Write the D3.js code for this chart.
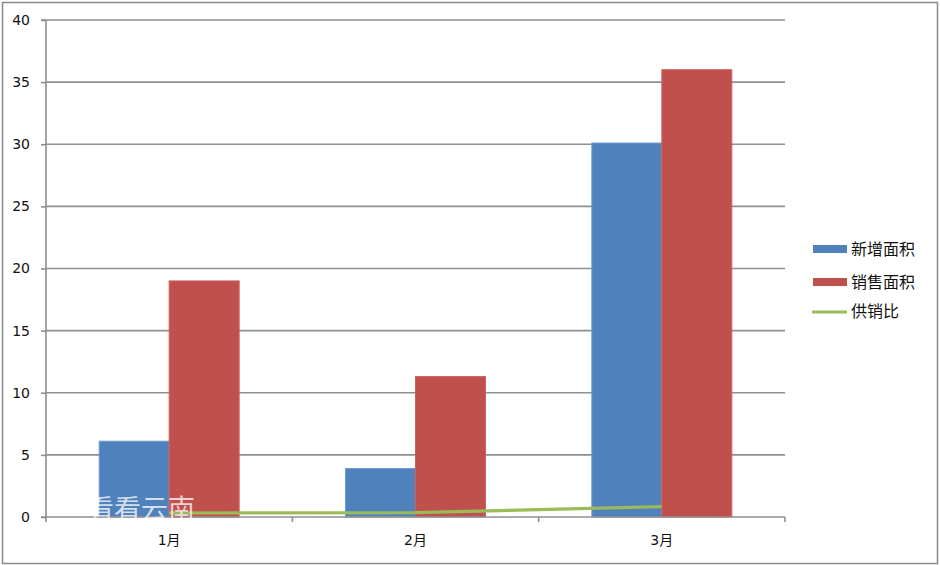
<!DOCTYPE html>
<html><head><meta charset="utf-8">
<script src="https://cdn.jsdelivr.net/npm/d3@7"></script>
<style>body{margin:0;background:#fff}svg{display:block}</style>
</head><body>
<script>
const categories = ["1月", "2月", "3月"];
const seriesNames = ["新增面积", "销售面积"];
const newArea = [6.1, 3.9, 30.1];
const salesArea = [19, 11.3, 36];
const ratioName = "供销比";
const ratio = [0.32, 0.35, 0.84];
const yTicks = [0, 5, 10, 15, 20, 25, 30, 35, 40];
const colors = ["#4f81bd", "#c0504d"];
const lineColor = "#9bbb59";

(function () {
const W = 940, H = 565;
const gridColor = "#8f8f8f";
const svg = d3.select("body").append("svg").attr("width", W).attr("height", H);
svg.append("rect").attr("x", 2.5).attr("y", 2.5).attr("width", W - 5).attr("height", H - 4)
  .attr("fill", "#fff").attr("stroke", "#8a8a8a").attr("stroke-width", 1.5);

const pL = 46, pR = 785, pT = 20, pB = 517;
const y = d3.scaleLinear().domain([0, 40]).range([pB, pT]);
const x0 = d3.scaleBand().domain(categories).range([pL, pR]).padding(0);
const x1 = d3.scaleBand().domain(seriesNames).range([0, x0.bandwidth()]).paddingInner(0).paddingOuter(0.76);

// gridlines
svg.append("g").selectAll("line").data(yTicks.filter(d => d > 0)).join("line")
  .attr("x1", pL).attr("x2", pR)
  .attr("y1", d => y(d)).attr("y2", d => y(d))
  .attr("stroke", gridColor).attr("stroke-width", 1.6);

// y axis
const yAxis = svg.append("g").attr("transform", `translate(${pL},0)`)
  .call(d3.axisLeft(y).tickValues(yTicks).tickSize(5).tickPadding(11));
yAxis.select(".domain").attr("stroke", gridColor).attr("stroke-width", 1.6).attr("d", `M-5,${pT}H0V${pB}`);
yAxis.selectAll(".tick line").attr("stroke", gridColor).attr("stroke-width", 1.6);
yAxis.selectAll(".tick text").attr("font-family", "DejaVu Sans, Verdana, sans-serif")
  .attr("font-size", 14).attr("fill", "#111");

// bars
const data = categories.map((c, i) => ({ c, vals: [newArea[i], salesArea[i]] }));
const groups = svg.append("g").selectAll("g").data(data).join("g")
  .attr("transform", d => `translate(${x0(d.c)},0)`);
groups.selectAll("rect").data(d => d.vals.map((v, j) => ({ v, s: seriesNames[j], j }))).join("rect")
  .attr("x", d => x1(d.s)).attr("width", x1.bandwidth())
  .attr("y", d => y(d.v)).attr("height", d => y(0) - y(d.v))
  .attr("fill", d => colors[d.j])
  .attr("stroke", d => d.j === 0 ? "#6f9ad0" : "#d0605d").attr("stroke-width", 1);

// x axis
const xAxis = svg.append("g").attr("transform", `translate(0,${pB})`);
xAxis.append("line").attr("x1", pL - 5).attr("x2", pR).attr("stroke", gridColor).attr("stroke-width", 1.6);
const edges = categories.map(c => x0(c)).concat([pR]);
xAxis.selectAll("line.t").data(edges).join("line").attr("class", "t")
  .attr("x1", d => d).attr("x2", d => d).attr("y1", 0).attr("y2", 5)
  .attr("stroke", gridColor).attr("stroke-width", 1.6);
xAxis.selectAll("text").data(categories).join("text")
  .attr("x", d => x0(d) + x0.bandwidth() / 2).attr("y", 28)
  .attr("text-anchor", "middle").attr("font-family", "DejaVu Sans, 'Noto Sans CJK SC', sans-serif")
  .attr("font-size", 14).attr("fill", "#111").text(d => d);

// ratio line
const line = d3.line().x((d, i) => x0(categories[i]) + x0.bandwidth() / 2).y(d => y(d));
svg.append("path").datum(ratio).attr("d", line).attr("fill", "none")
  .attr("stroke", lineColor).attr("stroke-width", 3.2);

// watermark
svg.append("text").attr("x", 87).attr("y", 519).attr("font-family", "'Noto Sans CJK SC', sans-serif")
  .attr("font-size", 27).attr("fill", "#ffffff").attr("fill-opacity", 0.75).text("看看云南");

// legend
const lg = svg.append("g");
const items = [
  { name: seriesNames[0], color: colors[0], type: "bar", y: 249 },
  { name: seriesNames[1], color: colors[1], type: "bar", y: 282 },
  { name: ratioName, color: lineColor, type: "line", y: 311 }
];
items.forEach(it => {
  if (it.type === "bar") {
    lg.append("rect").attr("x", 813).attr("y", it.y - 4).attr("width", 34).attr("height", 8).attr("fill", it.color);
  } else {
    lg.append("line").attr("x1", 812).attr("x2", 847).attr("y1", it.y + 1).attr("y2", it.y + 1)
      .attr("stroke", it.color).attr("stroke-width", 3.2);
  }
  lg.append("text").attr("x", 851).attr("y", it.y).attr("dy", "0.35em")
    .attr("font-family", "'Noto Sans CJK SC', sans-serif").attr("font-size", 16).attr("fill", "#111").text(it.name);
});
})();
</script>
</body></html>
